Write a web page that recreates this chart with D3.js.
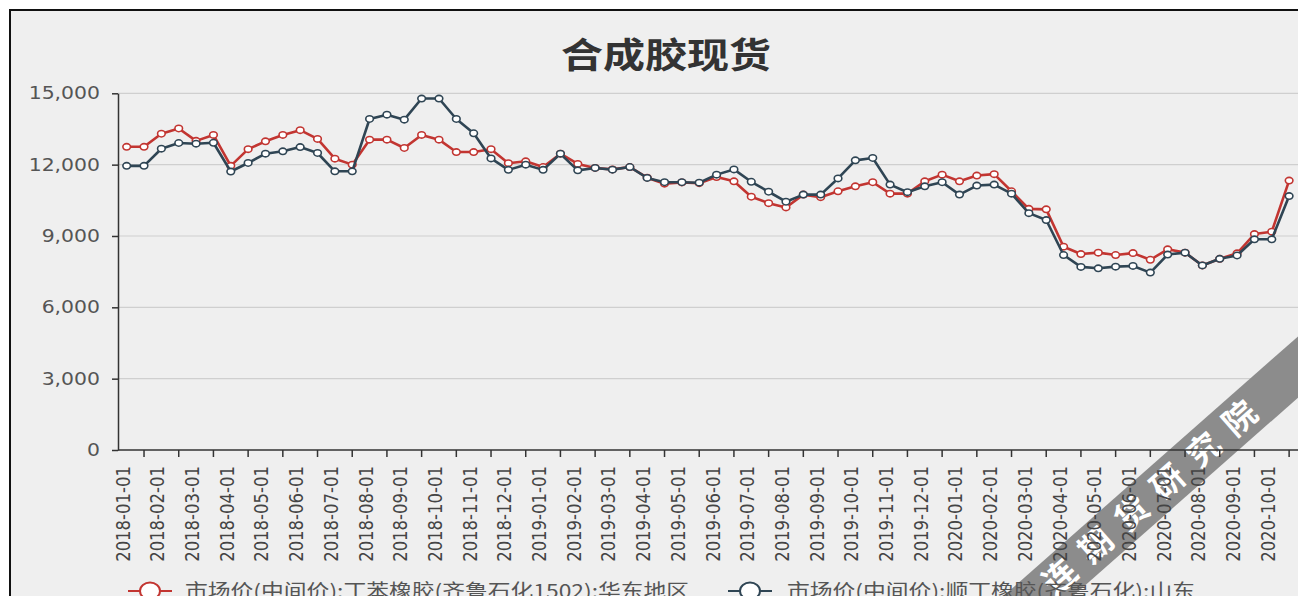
<!DOCTYPE html>
<html>
<head>
<meta charset="utf-8">
<script src="https://cdn.jsdelivr.net/npm/d3@7/dist/d3.min.js"></script>
<style>
  body { margin: 0; background: #fff; }
  svg { display: block; }
</style>
</head>
<body>
<svg id="chart" width="1298" height="596"></svg>
<script>
// months on the axis; each month carries two readings (1st and mid-month)
const months = [
  '2018-01', '2018-02', '2018-03', '2018-04', '2018-05', '2018-06',
  '2018-07', '2018-08', '2018-09', '2018-10', '2018-11', '2018-12',
  '2019-01', '2019-02', '2019-03', '2019-04', '2019-05', '2019-06',
  '2019-07', '2019-08', '2019-09', '2019-10', '2019-11', '2019-12',
  '2020-01', '2020-02', '2020-03', '2020-04', '2020-05', '2020-06',
  '2020-07', '2020-08', '2020-09', '2020-10',
];
const dates = months.flatMap((m) => [`${m}-01`, `${m}-15`]);

// 市场价(中间价):丁苯橡胶(齐鲁石化1502):华东地区
const sbrEast = [
  12750, 12750, 13300, 13520, 13000, 13250, 11950, 12650, 12980, 13250,
  13450, 13080, 12250, 12000, 13050, 13050, 12700, 13250, 13050, 12530,
  12530, 12650, 12060, 12140, 11900, 12460, 12030, 11860, 11800, 11900,
  11450, 11200, 11250, 11220, 11480, 11300, 10650, 10380, 10200, 10740,
  10630, 10880, 11090, 11260, 10780, 10780, 11300, 11580, 11300, 11540,
  11600, 10880, 10140, 10120, 8550, 8240, 8300, 8200, 8280, 8000,
  8440, 8300, 7760, 8040, 8270, 9080, 9180, 11330,
];

// 市场价(中间价):顺丁橡胶(齐鲁石化):山东
const brShandong = [
  11950, 11950, 12670, 12910, 12880, 12920, 11710, 12070, 12460, 12560,
  12740, 12490, 11720, 11720, 13920, 14100, 13890, 14780, 14780, 13920,
  13320, 12260, 11780, 12000, 11780, 12460, 11760, 11860, 11790, 11900,
  11440, 11260, 11260, 11240, 11580, 11800, 11280, 10860, 10440, 10740,
  10740, 11420, 12180, 12280, 11160, 10840, 11090, 11260, 10740, 11120,
  11160, 10780, 9960, 9670, 8200, 7700, 7640, 7710, 7740, 7460,
  8220, 8300, 7760, 8040, 8180, 8860, 8860, 10680,
];

const seriesNames = [
  '市场价(中间价):丁苯橡胶(齐鲁石化1502):华东地区',
  '市场价(中间价):顺丁橡胶(齐鲁石化):山东',
];
const yTicks = [0, 3000, 6000, 9000, 12000, 15000];
const title = '合成胶现货';
const watermark = '连期货研究院';

const colors = ['#c23531', '#2f4554'];
const sx = 1.2; // the reference is stretched horizontally

const svg = d3.select('#chart');
const plotLeft = 118;
const plotTop = 93.3;
const plotBottom = 450;

svg.append('rect')
  .attr('x', 10).attr('y', 10)
  .attr('width', 1400).attr('height', 700)
  .attr('fill', '#efefef')
  .attr('stroke', '#111')
  .attr('stroke-width', 2);

const x = d3.scaleBand()
  .domain(dates)
  .range([plotLeft, plotLeft + dates.length * 17.35]);
const cx = (d) => x(d) + x.bandwidth() / 2;

const y = d3.scaleLinear()
  .domain([0, 15000])
  .range([plotBottom, plotTop]);

// grid
svg.append('g')
  .selectAll('line')
  .data(yTicks.filter((t) => t > 0))
  .join('line')
  .attr('x1', plotLeft)
  .attr('x2', 1298)
  .attr('y1', (d) => y(d))
  .attr('y2', (d) => y(d))
  .attr('stroke', '#cfcfcf')
  .attr('stroke-width', 1.2);

// watermark band
const wm = svg.append('g')
  .attr('transform', 'translate(1247,412) rotate(-41.4)');
wm.append('rect')
  .attr('x', -520).attr('y', -23)
  .attr('width', 800).attr('height', 46)
  .attr('fill', '#8c8c8c');
wm.append('text')
  .attr('x', 22)
  .attr('y', 0)
  .attr('dy', '0.36em')
  .attr('text-anchor', 'end')
  .attr('fill', '#fff')
  .style('font-family', '"Noto Sans CJK SC", sans-serif')
  .style('font-weight', 'bold')
  .style('font-size', '33px')
  .style('letter-spacing', '15px')
  .text(watermark);

// y axis
const yAxis = svg.append('g')
  .attr('transform', `translate(${plotLeft},0)`)
  .call(d3.axisLeft(y)
    .tickValues(yTicks)
    .tickSize(6)
    .tickSizeOuter(0)
    .tickPadding(9)
    .tickFormat(d3.format(',')));
yAxis.select('.domain').attr('stroke', '#333').attr('stroke-width', 1.5);
yAxis.selectAll('.tick line').attr('stroke', '#333').attr('stroke-width', 1.5);
yAxis.selectAll('.tick text')
  .attr('transform', `scale(${sx},1)`)
  .attr('fill', '#555')
  .style('font-family', '"DejaVu Sans", sans-serif')
  .style('font-size', '17px');

// x axis: ticks on every other category, labels on the others
const xg = svg.append('g');
xg.append('line')
  .attr('x1', plotLeft).attr('x2', 1298)
  .attr('y1', plotBottom).attr('y2', plotBottom)
  .attr('stroke', '#333')
  .attr('stroke-width', 1.5);
xg.selectAll('.xtick')
  .data(dates.filter((d, i) => i % 2 === 1))
  .join('line')
  .attr('class', 'xtick')
  .attr('x1', (d) => cx(d)).attr('x2', (d) => cx(d))
  .attr('y1', plotBottom).attr('y2', plotBottom + 7)
  .attr('stroke', '#333')
  .attr('stroke-width', 1.5);
xg.selectAll('.xlabel')
  .data(dates.filter((d, i) => i % 2 === 0))
  .join('text')
  .attr('class', 'xlabel')
  .attr('transform', (d) => `translate(${cx(d) - 4},${plotBottom + 16}) scale(${sx},1) rotate(-90)`)
  .attr('text-anchor', 'end')
  .attr('dy', '0.35em')
  .attr('fill', '#444')
  .style('font-family', '"DejaVu Sans", sans-serif')
  .style('font-size', '16.5px')
  .text((d) => d);

// series
const line = d3.line()
  .x((d, i) => cx(dates[i]))
  .y((d) => y(d));

[sbrEast, brShandong].forEach((values, k) => {
  const g = svg.append('g');
  g.append('path')
    .datum(values)
    .attr('d', line)
    .attr('fill', 'none')
    .attr('stroke', colors[k])
    .attr('stroke-width', 2.6)
    .attr('stroke-linejoin', 'round');
  g.selectAll('ellipse')
    .data(values)
    .join('ellipse')
    .attr('cx', (d, i) => cx(dates[i]))
    .attr('cy', (d) => y(d))
    .attr('rx', 3.8)
    .attr('ry', 3.2)
    .attr('fill', '#fff')
    .attr('stroke', colors[k])
    .attr('stroke-width', 1.6);
});

// title
svg.append('text')
  .attr('transform', `translate(666,68) scale(${sx},1)`)
  .attr('text-anchor', 'middle')
  .attr('fill', '#333')
  .style('font-family', '"Noto Sans CJK SC", sans-serif')
  .style('font-weight', 'bold')
  .style('font-size', '35px')
  .text(title);

// legend
const legendPos = [{ icon: 150, text: 185 }, { icon: 750, text: 787 }];
seriesNames.forEach((name, k) => {
  const g = svg.append('g').attr('transform', 'translate(0,591)');
  g.append('line')
    .attr('x1', legendPos[k].icon - 22).attr('x2', legendPos[k].icon + 22)
    .attr('stroke', colors[k])
    .attr('stroke-width', 2.2);
  g.append('ellipse')
    .attr('cx', legendPos[k].icon)
    .attr('rx', 10).attr('ry', 8.5)
    .attr('fill', '#fff')
    .attr('stroke', colors[k])
    .attr('stroke-width', 2);
  g.append('text')
    .attr('transform', `translate(${legendPos[k].text},0) scale(${sx},1)`)
    .attr('dy', '0.36em')
    .attr('fill', '#555')
    .style('font-family', '"Noto Sans CJK SC", sans-serif')
    .style('font-size', '19px')
    .text(name);
});
</script>
</body>
</html>
